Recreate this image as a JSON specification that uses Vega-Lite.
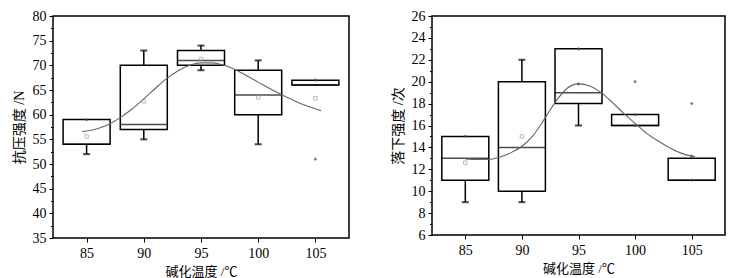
{
  "$schema": "https://vega.github.io/schema/vega-lite/v6.json",
  "background": "white",
  "padding": {"left": 11, "top": 4, "right": 4, "bottom": 4},
  "spacing": 40,
  "config": {
    "view": {"stroke": "black", "strokeWidth": 1.5},
    "font": "Liberation Serif, Noto Sans CJK SC",
    "axis": {
      "domain": false, "grid": false, "tickColor": "black", "tickSize": 4, "tickWidth": 1,
      "labelFont": "Liberation Serif", "labelFontSize": 14, "labelColor": "black", "labelOverlap": false,
      "titleFont": "Liberation Serif, Noto Sans CJK SC", "titleFontSize": 13, "titleFontWeight": "normal", "titleColor": "black"
    }
  },
  "datasets": {
    "boxA": [
      {"t": 85, "q1": 54, "q3": 59, "med": 54, "lo": 52, "hi": 59, "mean": 55.6},
      {"t": 90, "q1": 57, "q3": 70, "med": 58, "lo": 55, "hi": 73, "mean": 62.7},
      {"t": 95, "q1": 70, "q3": 73, "med": 71, "lo": 69, "hi": 74, "mean": 71.3},
      {"t": 100, "q1": 60, "q3": 69, "med": 64, "lo": 54, "hi": 71, "mean": 63.5},
      {"t": 105, "q1": 66, "q3": 67, "med": 66, "lo": 66, "hi": 67, "mean": 63.3}
    ],
    "capA": [
      {"t": 85, "v": 52}, {"t": 90, "v": 55}, {"t": 90, "v": 73},
      {"t": 95, "v": 69}, {"t": 95, "v": 74}, {"t": 100, "v": 54}, {"t": 100, "v": 71}
    ],
    "dotA": [{"t": 85, "v": 59}, {"t": 105, "v": 67}, {"t": 105, "v": 51}],
    "curveA": [
      {"t": 84.6, "v": 56.6}, {"t": 85, "v": 56.7}, {"t": 86, "v": 57.2}, {"t": 87, "v": 58.1},
      {"t": 88, "v": 59.5}, {"t": 89, "v": 61.2}, {"t": 90, "v": 63.2}, {"t": 91, "v": 65.3},
      {"t": 92, "v": 67.3}, {"t": 93, "v": 68.9}, {"t": 94, "v": 70.0}, {"t": 95, "v": 70.5},
      {"t": 96, "v": 70.5}, {"t": 97, "v": 70.0}, {"t": 98, "v": 69.1}, {"t": 99, "v": 67.9},
      {"t": 100, "v": 66.6}, {"t": 101, "v": 65.3}, {"t": 102, "v": 64.1}, {"t": 103, "v": 63.0},
      {"t": 104, "v": 62.0}, {"t": 105, "v": 61.2}, {"t": 105.5, "v": 60.8}
    ],
    "boxB": [
      {"t": 85, "q1": 11, "q3": 15, "med": 13, "lo": 9, "hi": 15, "mean": 12.6},
      {"t": 90, "q1": 10, "q3": 20, "med": 14, "lo": 9, "hi": 22, "mean": 15},
      {"t": 95, "q1": 18, "q3": 23, "med": 19, "lo": 16, "hi": 23, "mean": 19.8},
      {"t": 100, "q1": 16, "q3": 17, "med": 16, "lo": 16, "hi": 17, "mean": 16.5},
      {"t": 105, "q1": 11, "q3": 13, "med": 11, "lo": 11, "hi": 13, "mean": 13.2}
    ],
    "capB": [
      {"t": 85, "v": 9}, {"t": 90, "v": 9}, {"t": 90, "v": 22}, {"t": 95, "v": 16}
    ],
    "dotB": [
      {"t": 85, "v": 15}, {"t": 95, "v": 23}, {"t": 95, "v": 19.8}, {"t": 100, "v": 20}, {"t": 100, "v": 17},
      {"t": 100, "v": 16}, {"t": 105, "v": 18}, {"t": 105, "v": 13.2}, {"t": 105, "v": 11}
    ],
    "meanB": [{"t": 85, "v": 12.6}, {"t": 90, "v": 15}],
    "curveB": [
      {"t": 85, "v": 12.95}, {"t": 86, "v": 12.9}, {"t": 87, "v": 12.9}, {"t": 88, "v": 13.1},
      {"t": 89, "v": 13.5}, {"t": 90, "v": 14.1}, {"t": 91, "v": 15.1}, {"t": 92, "v": 16.6},
      {"t": 93, "v": 18.2}, {"t": 94, "v": 19.4}, {"t": 95, "v": 19.8}, {"t": 96, "v": 19.6},
      {"t": 97, "v": 19.0}, {"t": 98, "v": 18.1}, {"t": 99, "v": 17.1}, {"t": 100, "v": 16.2},
      {"t": 101, "v": 15.3}, {"t": 102, "v": 14.6}, {"t": 103, "v": 14.0}, {"t": 104, "v": 13.5},
      {"t": 105, "v": 13.2}, {"t": 105.3, "v": 13.15}
    ]
  },
  "hconcat": [
    {
      "width": 296, "height": 222,
      "layer": [
        {
          "data": {"name": "boxA"},
          "mark": {"type": "rule", "color": "black", "strokeWidth": 1.5},
          "encoding": {
            "x": {"field": "t", "type": "quantitative", "scale": {"domain": [82.5, 107.5], "nice": false, "zero": false},
                  "axis": {"values": [85, 90, 95, 100, 105], "tickCount": 100, "format": "d", "labelOverlap": false, "title": "碱化温度 /℃", "titlePadding": 5, "labelPadding": 4}},
            "y": {"field": "lo", "type": "quantitative", "scale": {"domain": [35, 80], "nice": false, "zero": false},
                  "axis": {"values": [35, 37.5, 40, 42.5, 45, 47.5, 50, 52.5, 55, 57.5, 60, 62.5, 65, 67.5, 70, 72.5, 75, 77.5, 80],
                           "tickCount": 100, "labelOverlap": false, "labelBound": false, "format": "d",
                           "labelExpr": "datum.value % 5 == 0 ? datum.label : ''",
                           "tickSize": {"condition": {"test": "datum.value % 5 == 0", "value": 4}, "value": 2.5},
                           "title": "抗压强度 /N", "titleFontSize": 14, "titlePadding": 6, "labelPadding": 3}},
            "y2": {"field": "hi"}
          }
        },
        {
          "data": {"name": "boxA"},
          "mark": {"type": "bar", "width": 47, "fill": "white", "stroke": "black", "strokeWidth": 1.5},
          "encoding": {
            "x": {"field": "t", "type": "quantitative"},
            "y": {"field": "q1", "type": "quantitative"},
            "y2": {"field": "q3"}
          }
        },
        {
          "data": {"name": "boxA"},
          "mark": {"type": "tick", "orient": "horizontal", "size": 47, "thickness": 1.5, "color": "black"},
          "encoding": {
            "x": {"field": "t", "type": "quantitative"},
            "y": {"field": "med", "type": "quantitative"}
          }
        },
        {
          "data": {"name": "capA"},
          "mark": {"type": "tick", "orient": "horizontal", "size": 7, "thickness": 2, "color": "black"},
          "encoding": {
            "x": {"field": "t", "type": "quantitative"},
            "y": {"field": "v", "type": "quantitative"}
          }
        },
        {
          "data": {"name": "curveA"},
          "mark": {"type": "line", "color": "#666", "strokeWidth": 1.1, "interpolate": "monotone"},
          "encoding": {
            "x": {"field": "t", "type": "quantitative"},
            "y": {"field": "v", "type": "quantitative"}
          }
        },
        {
          "data": {"name": "boxA"},
          "mark": {"type": "point", "shape": "square", "size": 12, "filled": false, "color": "#888", "strokeWidth": 0.8},
          "encoding": {
            "x": {"field": "t", "type": "quantitative"},
            "y": {"field": "mean", "type": "quantitative"}
          }
        },
        {
          "data": {"name": "dotA"},
          "mark": {"type": "point", "shape": "cross", "size": 10, "filled": true, "color": "#444"},
          "encoding": {
            "x": {"field": "t", "type": "quantitative"},
            "y": {"field": "v", "type": "quantitative"}
          }
        }
      ]
    },
    {
      "width": 293, "height": 219,
      "title": {"text": " ", "fontSize": 1, "offset": 3},
      "layer": [
        {
          "data": {"name": "boxB"},
          "mark": {"type": "rule", "color": "black", "strokeWidth": 1.5},
          "encoding": {
            "x": {"field": "t", "type": "quantitative", "scale": {"domain": [82.5, 107.5], "nice": false, "zero": false},
                  "axis": {"values": [85, 90, 95, 100, 105], "tickCount": 100, "format": "d", "labelOverlap": false, "title": "碱化温度 /℃", "titlePadding": 5, "labelPadding": 4}},
            "y": {"field": "lo", "type": "quantitative", "scale": {"domain": [6, 26], "nice": false, "zero": false},
                  "axis": {"values": [6, 7, 8, 9, 10, 11, 12, 13, 14, 15, 16, 17, 18, 19, 20, 21, 22, 23, 24, 25, 26],
                           "tickCount": 100, "labelOverlap": false, "labelBound": false, "format": "d",
                           "labelExpr": "datum.value % 2 == 0 ? datum.label : ''",
                           "tickSize": {"condition": {"test": "datum.value % 2 == 0", "value": 4}, "value": 2.5},
                           "title": "落下强度 /次", "titleFontSize": 14, "titlePadding": 6, "labelPadding": 3}},
            "y2": {"field": "hi"}
          }
        },
        {
          "data": {"name": "boxB"},
          "mark": {"type": "bar", "width": 47, "fill": "white", "stroke": "black", "strokeWidth": 1.5},
          "encoding": {
            "x": {"field": "t", "type": "quantitative"},
            "y": {"field": "q1", "type": "quantitative"},
            "y2": {"field": "q3"}
          }
        },
        {
          "data": {"name": "boxB"},
          "mark": {"type": "tick", "orient": "horizontal", "size": 47, "thickness": 1.5, "color": "black"},
          "encoding": {
            "x": {"field": "t", "type": "quantitative"},
            "y": {"field": "med", "type": "quantitative"}
          }
        },
        {
          "data": {"name": "capB"},
          "mark": {"type": "tick", "orient": "horizontal", "size": 7, "thickness": 2, "color": "black"},
          "encoding": {
            "x": {"field": "t", "type": "quantitative"},
            "y": {"field": "v", "type": "quantitative"}
          }
        },
        {
          "data": {"name": "curveB"},
          "mark": {"type": "line", "color": "#666", "strokeWidth": 1.1, "interpolate": "monotone"},
          "encoding": {
            "x": {"field": "t", "type": "quantitative"},
            "y": {"field": "v", "type": "quantitative"}
          }
        },
        {
          "data": {"name": "meanB"},
          "mark": {"type": "point", "shape": "square", "size": 12, "filled": false, "color": "#888", "strokeWidth": 0.8},
          "encoding": {
            "x": {"field": "t", "type": "quantitative"},
            "y": {"field": "v", "type": "quantitative"}
          }
        },
        {
          "data": {"name": "dotB"},
          "mark": {"type": "point", "shape": "cross", "size": 10, "filled": true, "color": "#444"},
          "encoding": {
            "x": {"field": "t", "type": "quantitative"},
            "y": {"field": "v", "type": "quantitative"}
          }
        }
      ]
    }
  ]
}
